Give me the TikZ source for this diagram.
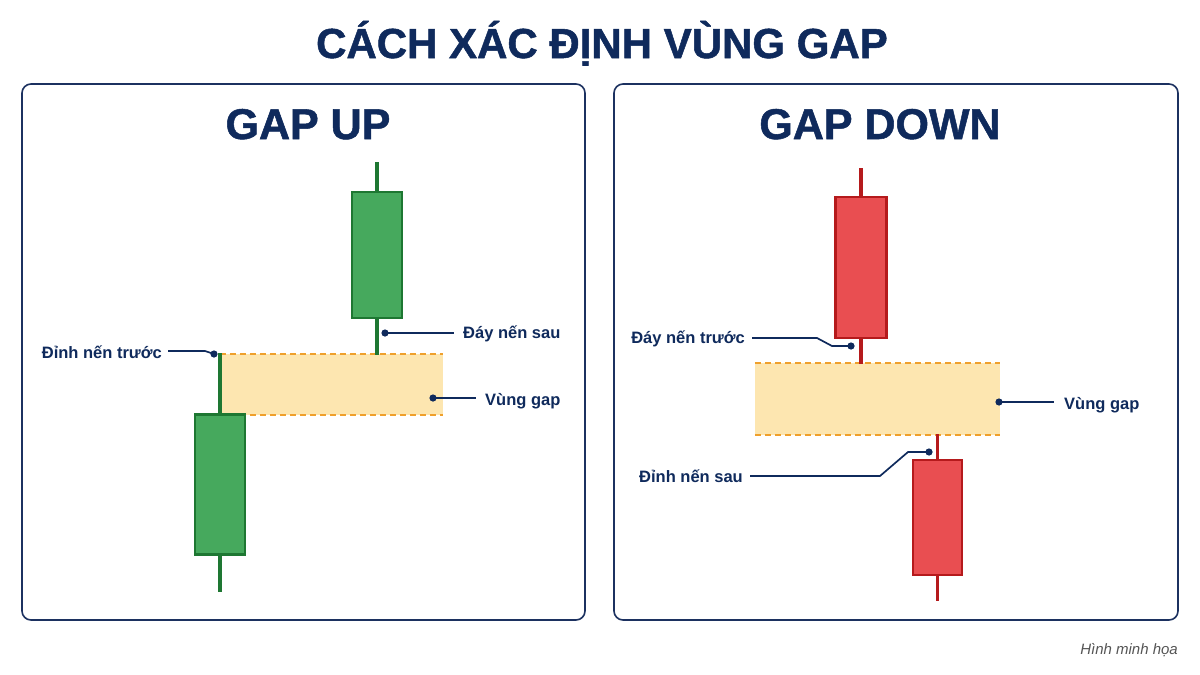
\documentclass[tikz,border=0pt]{standalone}
\usepackage{fontspec}
\setmainfont{Liberation Sans}
\newfontfamily\heavyfont[FakeBold=1.2]{Liberation Sans Bold}
\usetikzlibrary{calc}
\definecolor{navy}{HTML}{0F2A5C}
\definecolor{framec}{HTML}{1C3160}
\definecolor{gfill}{HTML}{46A95D}
\definecolor{gline}{HTML}{1E7732}
\definecolor{rfill}{HTML}{E94E51}
\definecolor{rline}{HTML}{B51A1C}
\definecolor{gapfill}{HTML}{FDE6B0}
\definecolor{gapline}{HTML}{EFA02C}
\definecolor{notec}{HTML}{555555}
\begin{document}
\begin{tikzpicture}[x=1pt,y=-1pt,
  panel/.style={draw=framec, line width=1.6pt, rounded corners=9pt},
  headtext/.style={anchor=base, text=navy, font=\heavyfont\fontsize{43}{43}\selectfont, inner sep=0},
  gbody/.style={draw=gline, fill=gfill, line width=2.6pt, inner sep=0},
  rbody/.style={draw=rline, fill=rfill, line width=2.6pt, inner sep=0},
  gwick/.style={draw=gline, line width=3.2pt},
  rwick/.style={draw=rline, line width=3.2pt},
  gapzone/.style={fill=gapfill, draw=none, inner sep=0},
  gapdash/.style={draw=gapline, line width=2.1pt, dash pattern=on 6pt off 4pt},
  lbl/.style={text=navy, font=\bfseries\fontsize{16.5}{16.5}\selectfont, inner sep=0},
  conn/.style={draw=navy, line width=1.7pt},
  dotc/.style={fill=navy}
]
\useasboundingbox (0,0) rectangle (1200,675);
\fill[white] (0,0) rectangle (1200,675);

% title
\node[headtext, font=\heavyfont\fontsize{42}{42}\selectfont] (title) at (602,58) {CÁCH XÁC ĐỊNH VÙNG GAP};

% panels
\node[panel, minimum width=563, minimum height=536, inner sep=0] (pL) at (303.5,352) {};
\node[panel, minimum width=564, minimum height=536, inner sep=0] (pR) at (896,352) {};

\node[headtext] (hL) at (308,139) {GAP UP};
\node[headtext] (hR) at (880,139) {GAP DOWN};

% ---------- GAP UP ----------
\node[gapzone, minimum width=223, minimum height=61] (gapL) at (331.5,384.5) {};
\draw[gapdash] (gapL.north west) -- (gapL.north east);
\draw[gapdash] (gapL.south west) -- (gapL.south east);

\node[gbody, minimum width=50, minimum height=140] (cL1) at (220,484.5) {};
\draw[gwick] (cL1.north) -- ++(0,-60);
\draw[gwick] (cL1.south) -- ++(0,36);

\node[gbody, minimum width=50, minimum height=126] (cL2) at (377,255) {};
\draw[gwick] (cL2.north) -- ++(0,-29);
\draw[gwick] (cL2.south) -- ++(0,36);

% labels left
\node[lbl, anchor=base east] (dtr) at (162,358) {Đỉnh nến trước};
\coordinate (dtrbend) at (205,351);
\coordinate (dtrdot) at (214,354);
\draw[conn] ([xshift=6pt,yshift=7pt]dtr.base east) -- (dtrbend) -- (dtrdot);
\fill[dotc] (dtrdot) circle (3.6);

\node[lbl, anchor=base west] (dsau) at (463,338) {Đáy nến sau};
\coordinate (dsaudot) at (385,333);
\draw[conn] (dsaudot) -- ([xshift=-9pt,yshift=5pt]dsau.base west);
\fill[dotc] (dsaudot) circle (3.6);

\node[lbl, anchor=base west] (vgL) at (485,405) {Vùng gap};
\coordinate (vgLdot) at (433,398);
\draw[conn] (vgLdot) -- ([xshift=-9pt,yshift=7pt]vgL.base west);
\fill[dotc] (vgLdot) circle (3.6);

% ---------- GAP DOWN ----------
\node[gapzone, minimum width=245, minimum height=72] (gapR) at (877.5,399) {};
\draw[gapdash] (gapR.north west) -- (gapR.north east);
\draw[gapdash] (gapR.south west) -- (gapR.south east);

\node[rbody, minimum width=51, minimum height=141] (cR1) at (861,267.5) {};
\draw[rwick] (cR1.north) -- ++(0,-28);
\draw[rwick] (cR1.south) -- ++(0,25);

\node[rbody, minimum width=49, minimum height=115] (cR2) at (937.5,517.5) {};
\draw[rwick] (cR2.north) -- ++(0,-25);
\draw[rwick] (cR2.south) -- ++(0,25);

% labels right
\node[lbl, anchor=base east] (daytr) at (745,343) {Đáy nến trước};
\coordinate (daytrb1) at (817,338);
\coordinate (daytrb2) at (832,346);
\coordinate (daytrdot) at (851,346);
\draw[conn] ([xshift=7pt,yshift=5pt]daytr.base east) -- (daytrb1) -- (daytrb2) -- (daytrdot);
\fill[dotc] (daytrdot) circle (3.6);

\node[lbl, anchor=base west] (vgR) at (1064,409) {Vùng gap};
\coordinate (vgRdot) at (999,402);
\draw[conn] (vgRdot) -- ([xshift=-10pt,yshift=7pt]vgR.base west);
\fill[dotc] (vgRdot) circle (3.6);

\node[lbl, anchor=base east] (dinhsau) at (743,482) {Đỉnh nến sau};
\coordinate (dsb1) at (880,476);
\coordinate (dsb2) at (908,452);
\coordinate (dsdot) at (929,452);
\draw[conn] ([xshift=7pt,yshift=6pt]dinhsau.base east) -- (dsb1) -- (dsb2) -- (dsdot);
\fill[dotc] (dsdot) circle (3.6);

% note
\node[anchor=base east, text=notec, font=\itshape\fontsize{15}{15}\selectfont, inner sep=0] (note) at (1178,654) {Hình minh họa};
\end{tikzpicture}
\end{document}
